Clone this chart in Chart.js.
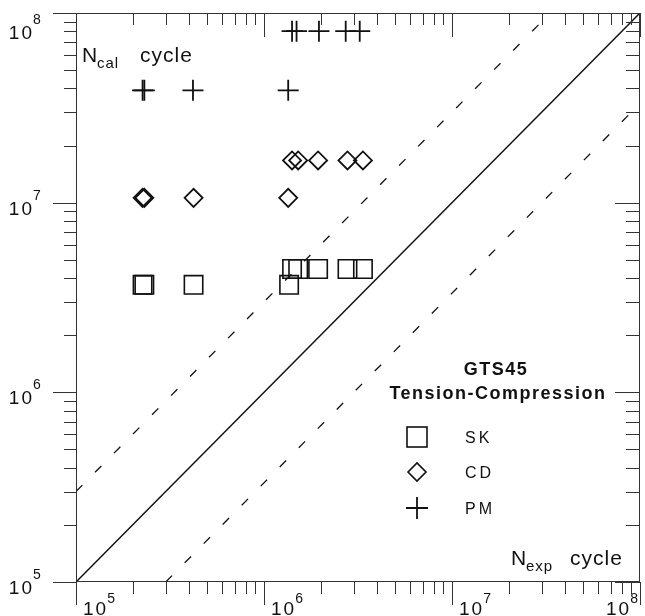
<!DOCTYPE html>
<html>
<head>
<meta charset="utf-8">
<script src="https://cdn.jsdelivr.net/npm/chart.js@4/dist/chart.umd.min.js"></script>
<style>
  body { margin: 0; background: #fff; }
  #wrap { width: 645px; height: 616px; }
</style>
</head>
<body>
<div id="wrap"><canvas id="myChart" width="645" height="616"></canvas></div>
<script>
// N_exp (x) vs N_cal (y)
var skExp = [2.26e5, 2.31e5, 4.22e5, 1.36e6, 1.41e6, 1.52e6, 1.94e6, 2.78e6, 3.36e6];
var skCal = [3.69e6, 3.69e6, 3.69e6, 3.69e6, 4.47e6, 4.47e6, 4.47e6, 4.47e6, 4.47e6];
var cdExp = [2.26e5, 2.31e5, 4.22e5, 1.345e6, 1.41e6, 1.52e6, 1.94e6, 2.78e6, 3.36e6];
var cdCal = [1.06e7, 1.06e7, 1.06e7, 1.06e7, 1.67e7, 1.67e7, 1.67e7, 1.67e7, 1.67e7];
var pmExp = [2.26e5, 2.31e5, 4.19e5, 1.345e6, 1.41e6, 1.49e6, 1.96e6, 2.72e6, 3.23e6];
var pmCal = [3.91e7, 3.91e7, 3.91e7, 3.91e7, 8.02e7, 8.02e7, 8.02e7, 8.02e7, 8.02e7];

// reference lines: N_cal = N_exp and the factor-3 band
var diagX = [1e5, 1e8];
var diagY = [1e5, 1e8];
var upperX = [1e5, 3.333e7];
var upperY = [3e5, 1e8];
var lowerX = [3e5, 1e8];
var lowerY = [1e5, 3.333e7];

var decades = [1e5, 1e6, 1e7, 1e8];
var decadeLabels = ['5', '6', '7', '8'];
var seriesNames = ['SK', 'CD', 'PM'];

function pts(xs, ys) {
  return xs.map(function (x, i) { return { x: x, y: ys[i] }; });
}

var ink = '#111';

var frame = {
  id: 'frame',
  afterDraw: function (chart) {
    var ctx = chart.ctx, a = chart.chartArea;
    var xs = chart.scales.x, ys = chart.scales.y;
    ctx.save();
    ctx.strokeStyle = '#333';
    ctx.lineWidth = 1;
    ctx.strokeRect(Math.round(a.left) + 0.5, Math.round(a.top) + 0.5,
      Math.round(a.right - a.left) - 1, Math.round(a.bottom - a.top) - 1);

    // ticks
    ctx.beginPath();
    for (var d = 0; d < 4; d++) {
      for (var m = 1; m <= 9; m++) {
        if (d == 3 && m > 1) break;
        var v = decades[d] * m;
        var major = m == 1;
        var px = Math.round(xs.getPixelForValue(v)) + 0.5;
        var py = Math.round(ys.getPixelForValue(v)) + 0.5;
        var len = major ? 23 : 12;
        // bottom: outward
        ctx.moveTo(px, a.bottom); ctx.lineTo(px, a.bottom + len);
        // top: inward
        ctx.moveTo(px, a.top); ctx.lineTo(px, a.top + (major ? 24 : 12));
        // left: outward
        ctx.moveTo(a.left - len, py); ctx.lineTo(a.left, py);
        // right: inward
        ctx.moveTo(a.right - (major ? 25 : 14), py); ctx.lineTo(a.right, py);
      }
    }
    ctx.stroke();

    // tick labels 10^n
    ctx.fillStyle = ink;
    ctx.textBaseline = 'alphabetic';
    for (var i = 0; i < 4; i++) {
      var tx = xs.getPixelForValue(decades[i]);
      var ty = ys.getPixelForValue(decades[i]);
      // y axis
      var off = i == 3 ? 14 : 0;
      ctx.letterSpacing = '2px';
      ctx.font = '19px "Liberation Sans", Arial, sans-serif';
      ctx.textAlign = 'right';
      ctx.fillText('10', 34, ty + 12 + off);
      ctx.letterSpacing = '0px';
      ctx.font = '14px "Liberation Sans", Arial, sans-serif';
      ctx.textAlign = 'left';
      ctx.fillText(decadeLabels[i], 33, ty - 3 + off);
      // x axis
      ctx.letterSpacing = '2px';
      ctx.font = '19px "Liberation Sans", Arial, sans-serif';
      var w10 = ctx.measureText('10').width;
      var lx = i == 3 ? tx - 34 : tx + 7;
      ctx.fillText('10', lx, 615);
      ctx.letterSpacing = '0px';
      ctx.font = '14px "Liberation Sans", Arial, sans-serif';
      ctx.fillText(decadeLabels[i], lx + w10 - 1, 603);
    }

    // axis titles
    function title(x, y, sub) {
      ctx.letterSpacing = '0px';
      ctx.font = '21px "Liberation Sans", Arial, sans-serif';
      ctx.fillText('N', x, y);
      ctx.letterSpacing = '1px';
      ctx.font = '15px "Liberation Sans", Arial, sans-serif';
      ctx.fillText(sub, x + 15, y + 6);
      ctx.font = '21px "Liberation Sans", Arial, sans-serif';
      ctx.fillText('cycle', x + 58 + (sub == 'cal' ? 0 : 1), y);
    }
    ctx.textAlign = 'left';
    title(82, 62, 'cal');
    title(511, 565, 'exp');

    // legend block
    ctx.textAlign = 'center';
    ctx.letterSpacing = '1.5px';
    ctx.font = 'bold 18px "Liberation Sans", Arial, sans-serif';
    ctx.fillText('GTS45', 496, 375);
    ctx.fillText('Tension-Compression', 498, 399);

    ctx.strokeStyle = ink;
    ctx.lineWidth = 1.6;
    var lx0 = 417;
    ctx.strokeRect(lx0 - 10, 427, 20, 20);
    ctx.beginPath();
    ctx.moveTo(lx0 - 9, 472); ctx.lineTo(lx0, 463); ctx.lineTo(lx0 + 9, 472);
    ctx.lineTo(lx0, 481); ctx.closePath();
    ctx.stroke();
    ctx.lineWidth = 1.8;
    ctx.beginPath();
    ctx.moveTo(lx0 - 11, 508); ctx.lineTo(lx0 + 11, 508);
    ctx.moveTo(lx0, 497); ctx.lineTo(lx0, 519);
    ctx.stroke();

    ctx.textAlign = 'left';
    ctx.letterSpacing = '3px';
    ctx.font = '16px "Liberation Sans", Arial, sans-serif';
    ctx.fillText(seriesNames[0], 465, 443);
    ctx.fillText(seriesNames[1], 465, 478);
    ctx.fillText(seriesNames[2], 465, 514);
    ctx.restore();
  }
};

var ctx = document.getElementById('myChart').getContext('2d');
var myChart = new Chart(ctx, {
  type: 'scatter',
  data: {
    datasets: [
      { label: 'diag', type: 'line', data: pts(diagX, diagY), borderColor: ink, borderWidth: 1.5, pointRadius: 0, fill: false },
      { label: 'upper', type: 'line', data: pts(upperX, upperY), borderColor: ink, borderWidth: 1.3, borderDash: [9, 18], pointRadius: 0, fill: false },
      { label: 'lower', type: 'line', data: pts(lowerX, lowerY), borderColor: ink, borderWidth: 1.3, borderDash: [9, 18], pointRadius: 0, fill: false },
      { label: seriesNames[0], data: pts(skExp, skCal), pointStyle: 'rect', pointRadius: 13, borderColor: ink, backgroundColor: 'rgba(0,0,0,0)', borderWidth: 1.6 },
      { label: seriesNames[1], data: pts(cdExp, cdCal), pointStyle: 'rectRot', pointRadius: 9, borderColor: ink, backgroundColor: 'rgba(0,0,0,0)', borderWidth: 1.8 },
      { label: seriesNames[2], data: pts(pmExp, pmCal), pointStyle: 'cross', pointRadius: 10.5, borderColor: ink, backgroundColor: 'rgba(0,0,0,0)', borderWidth: 1.8 }
    ]
  },
  options: {
    responsive: false,
    animation: false,
    events: [],
    layout: { autoPadding: false, padding: { left: 76, top: 13, right: 5, bottom: 34 } },
    plugins: { legend: { display: false }, tooltip: { enabled: false } },
    scales: {
      x: { type: 'logarithmic', min: 1e5, max: 1e8, display: false },
      y: { type: 'logarithmic', min: 1e5, max: 1e8, display: false }
    }
  },
  plugins: [frame]
});
</script>
</body>
</html>
